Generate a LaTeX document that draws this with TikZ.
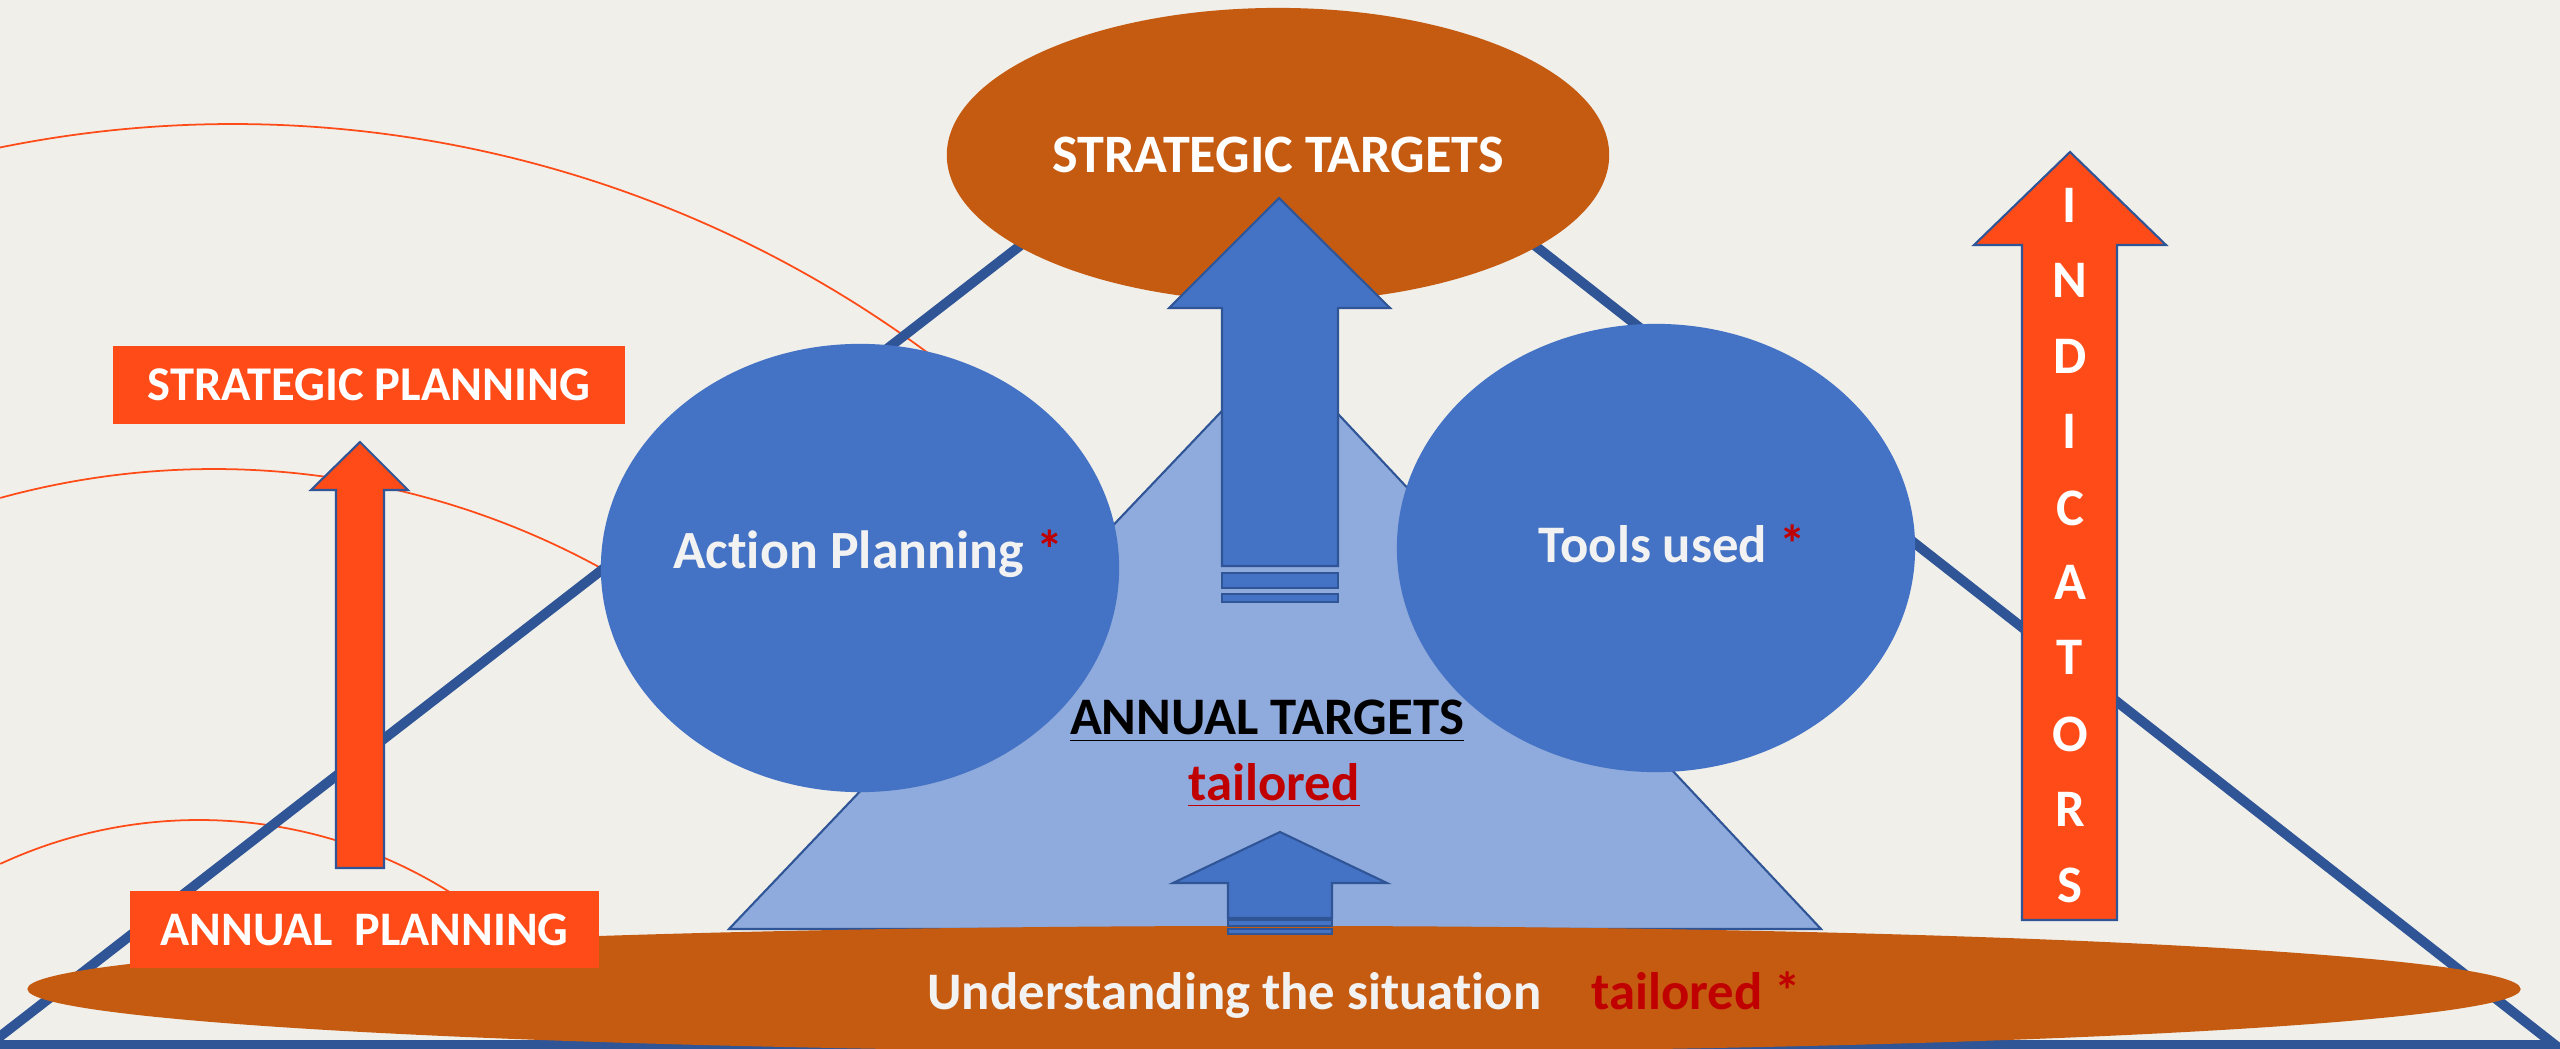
\documentclass[tikz,border=0pt]{standalone}
\usepackage{fontspec}
\setmainfont{Carlito}[Ligatures=NoCommon]
\usetikzlibrary{shapes.geometric}

\definecolor{bgcol}{HTML}{F0EFEA}
\definecolor{tblue}{HTML}{2F5597}
\definecolor{mblue}{HTML}{4472C4}
\definecolor{lblue}{HTML}{8FAADC}
\definecolor{rust}{HTML}{C55A11}
\definecolor{flame}{HTML}{FF4B17}
\definecolor{dred}{HTML}{C00000}
\definecolor{offwhite}{HTML}{F2F2F2}

\tikzset{
  txt/.style={inner sep=0pt,font=\bfseries\fontsize{#1}{#1}\selectfont},
  blob/.style={ellipse,inner sep=0pt,draw=none},
  barrow/.style={fill=mblue,draw=tblue,line width=0.6pt,line join=miter},
  farrow/.style={fill=flame,draw=tblue,line width=0.6pt,line join=miter},
}

\begin{document}
\begin{tikzpicture}[x=0.01cm,y=-0.01cm]

        \useasboundingbox (0,0) rectangle (2560,1049);
        \fill[bgcol] (0,0) rectangle (2560,1049);

        \draw[flame,line width=0.5pt] (233,1293) ++(-101.5:1169) arc[start angle=-101.5,end angle=-50,radius=1169];
        \draw[flame,line width=0.5pt] (214,1274) ++(-105.4:805) arc[start angle=-105.4,end angle=-58,radius=805];
        \draw[flame,line width=0.5pt] (199,1292) ++(-114.9:472) arc[start angle=-114.9,end angle=-50,radius=472];

        \draw[tblue,line width=2.8pt] (1279,45) -- (-11,1045) -- (2555,1045) -- cycle;

        \node[blob,fill=rust,minimum width=6.62cm,minimum height=2.94cm,
              text=white,txt=15.4pt] (st) at (1278,155) {STRATEGIC TARGETS};

        \draw[fill=lblue,draw=tblue,line width=0.6pt] (1279,351) -- (729,929) -- (1821,929) -- cycle;

        \begin{scope}[every node/.style={blob,fill=mblue,minimum width=5.18cm,minimum height=4.48cm}]
          \node (ap) at (860,568) {};
          \node (tu) at (1656,548) {};
        \end{scope}

        \draw[barrow] (1279,198) -- (1390,308) -- (1338,308) -- (1338,566) -- (1222,566) -- (1222,308) -- (1169,308) -- cycle;
        \draw[barrow] (1222,573) rectangle (1338,588);
        \draw[barrow] (1222,594) rectangle (1338,602);

        \node[blob,fill=rust,minimum width=24.92cm,minimum height=1.26cm] (us) at (1274,989) {};

        \draw[barrow] (1280,832) -- (1387,883) -- (1332,883) -- (1332,918) -- (1228,918) -- (1228,883) -- (1173,883) -- cycle;
        \draw[barrow] (1228,920) rectangle (1332,926);
        \draw[barrow] (1228,929) rectangle (1332,934);

        \draw[farrow] (360,442) -- (408,490) -- (384,490) -- (384,868) -- (336,868) -- (336,490) -- (311,490) -- cycle;
        \draw[farrow] (2070,152) -- (2166,245) -- (2117,245) -- (2117,920) -- (2022,920) -- (2022,245) -- (1974,245) -- cycle;

        \begin{scope}[every node/.style={fill=flame,text=white,inner sep=0pt}]
          \node[txt=13.8pt,minimum width=5.12cm,minimum height=0.78cm] (sp) at (369,385) {STRATEGIC PLANNING};
          \node[txt=13.7pt,minimum width=4.69cm,minimum height=0.77cm] (anp) at (364.5,929.5) {ANNUAL\ \ PLANNING};
        \end{scope}

        \begin{scope}[every node/.style={txt=15pt,anchor=base}]
          \node[text=offwhite,txt=15.3pt] (aplbl) at (868,568) {Action Planning \textcolor{dred}{*}};
          \node[text=offwhite] (tulbl) at (1672,563) {Tools used \textcolor{dred}{*}};
          \node[text=black] (at) at (1267,735) {\underline{ANNUAL TARGETS}};
          \node[text=dred] (tl) at (1274,800) {\underline{tailored}};
          \node[text=offwhite] (uslbl) at (1364,1009) {Understanding the situation\hspace{0.5cm}\textcolor{dred}{tailored *}};
        \end{scope}

        \begin{scope}[every node/.style={txt=15pt,anchor=base,text=white}]
          \node (i1)  at (2070,223) {I};
          \node (i2)  at (2070,298) {N};
          \node (i3)  at (2070,374) {D};
          \node (i4)  at (2070,449) {I};
          \node (i5)  at (2070,525) {C};
          \node (i6)  at (2070,600) {A};
          \node (i7)  at (2070,675) {T};
          \node (i8)  at (2070,751) {O};
          \node (i9)  at (2070,826) {R};
          \node (i10) at (2070,902) {S};
        \end{scope}

      \end{tikzpicture}
\end{document}
